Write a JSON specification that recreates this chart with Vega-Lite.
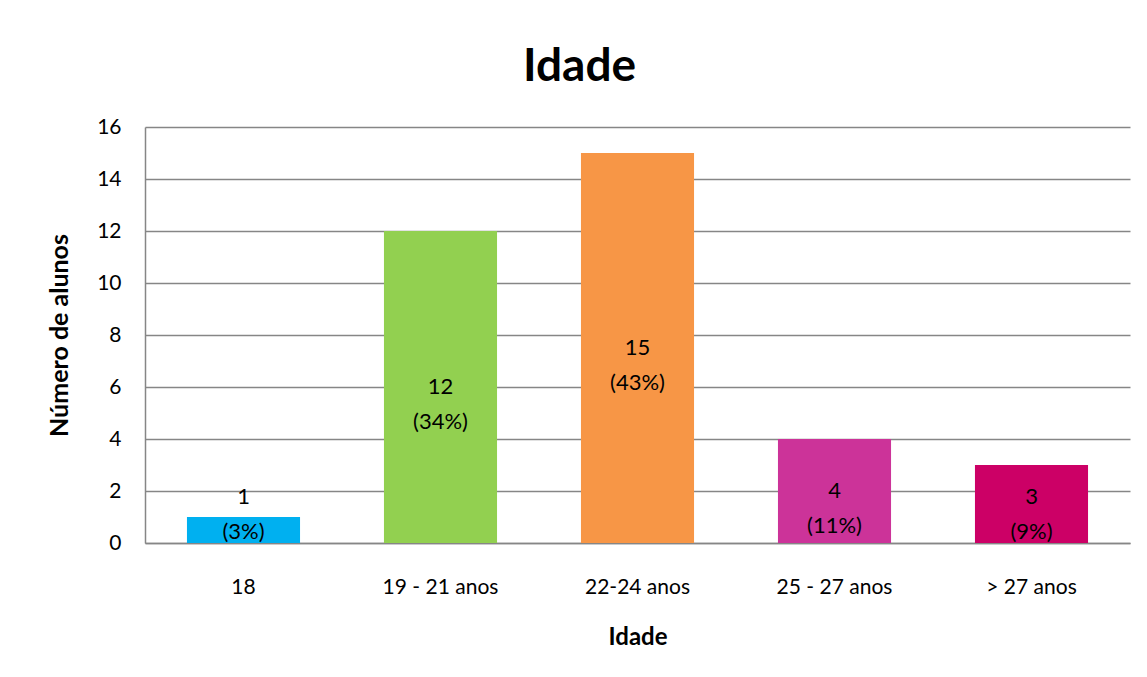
{
  "$schema": "https://vega.github.io/schema/vega-lite/v6.json",
  "autosize": {"type": "none"},
  "padding": {"left": 145, "top": 127, "right": 17, "bottom": 134},
  "width": 985,
  "height": 416,
  "background": "white",
  "config": {
    "font": "Lato",
    "view": {"stroke": null},
    "axis": {"labelFont": "Lato", "titleFont": "Lato", "labelColor": "#000000", "titleColor": "#000000"}
  },
  "title": {
    "text": "Idade",
    "font": "Lato",
    "fontSize": 46,
    "fontWeight": "bold",
    "color": "#000000",
    "anchor": "middle",
    "dx": -58,
    "offset": 25
  },
  "data": {
    "values": [
      {"idade": "18", "alunos": 1, "pct": "3%", "cor": "#00B0F0"},
      {"idade": "19 - 21 anos", "alunos": 12, "pct": "34%", "cor": "#92D050"},
      {"idade": "22-24 anos", "alunos": 15, "pct": "43%", "cor": "#F79646"},
      {"idade": "25 - 27 anos", "alunos": 4, "pct": "11%", "cor": "#CC3399"},
      {"idade": "> 27 anos", "alunos": 3, "pct": "9%", "cor": "#CC0066"}
    ]
  },
  "transform": [
    {"calculate": "datum.alunos + '\\n(' + datum.pct + ')'", "as": "rotulo"},
    {"calculate": "max(datum.alunos / 2, 1.77)", "as": "posRotulo"}
  ],
  "encoding": {
    "x": {
      "field": "idade",
      "type": "nominal",
      "sort": null,
      "scale": {"paddingInner": 0.426, "paddingOuter": 0.213},
      "axis": {
        "title": "Idade",
        "titleFontSize": 24,
        "titleFontWeight": "bold",
        "titlePadding": 28,
        "labelAngle": 0,
        "labelFontSize": 21,
        "labelPadding": 33,
        "ticks": false,
        "domainColor": "#868686",
        "domainWidth": 1.5
      }
    }
  },
  "layer": [
    {
      "mark": {"type": "bar"},
      "encoding": {
        "y": {
          "field": "alunos",
          "type": "quantitative",
          "scale": {"domain": [0, 16]},
          "axis": {
            "title": "Número de alunos",
            "titleFontSize": 25,
            "titleFontWeight": "bold",
            "titlePadding": 24,
            "values": [0, 2, 4, 6, 8, 10, 12, 14, 16],
            "labelFontSize": 21,
            "labelPadding": 24,
            "ticks": false,
            "grid": true,
            "gridColor": "#868686",
            "gridWidth": 1.5,
            "domainColor": "#868686",
            "domainWidth": 1.5
          }
        },
        "color": {"field": "cor", "type": "nominal", "scale": null, "legend": null}
      }
    },
    {
      "mark": {"type": "text", "fontSize": 22, "font": "Lato", "color": "#000000", "lineBreak": "\n", "lineHeight": 35, "align": "center", "baseline": "middle"},
      "encoding": {
        "y": {"field": "posRotulo", "type": "quantitative"},
        "text": {"field": "rotulo", "type": "nominal"}
      }
    }
  ]
}
